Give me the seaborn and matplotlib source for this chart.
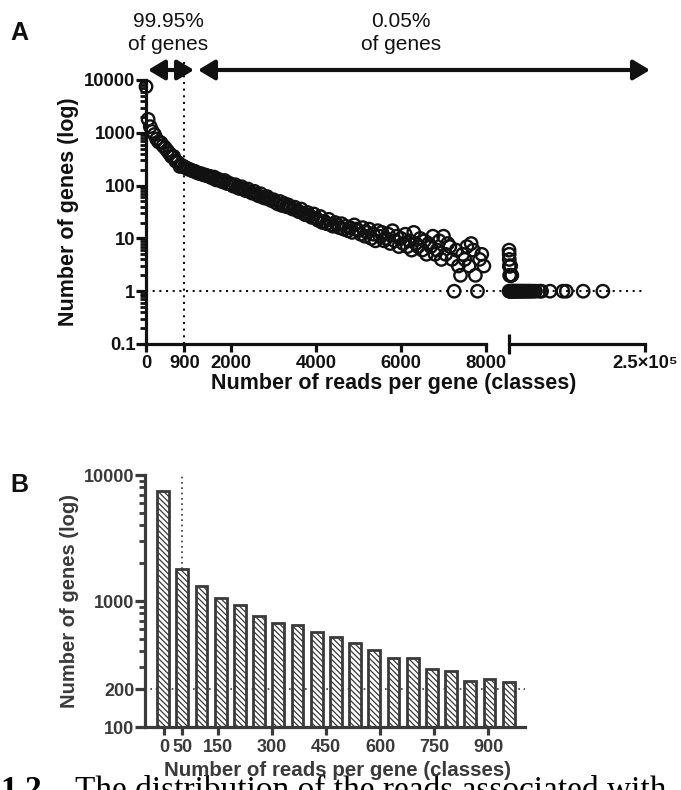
import numpy as np
import pandas as pd
import matplotlib
matplotlib.use("Agg")
import matplotlib.pyplot as plt
import seaborn as sns
from matplotlib.patches import FancyArrowPatch
from matplotlib.ticker import FixedLocator, NullFormatter

sns.set_theme(style="white")
plt.rcParams['font.family'] = ['Liberation Sans', 'DejaVu Sans']
plt.rcParams['hatch.color'] = '#3a3a3a'
plt.rcParams['hatch.linewidth'] = 0.9

# ---------------- Panel A data ----------------
a_class_start = np.arange(0, 8000, 50)
a_counts = [7500, 1800, 1310, 1060, 930, 760, 670, 650, 570, 520,
            460, 410, 356, 356, 291, 276, 230, 239, 226,
            215, 205, 198, 190, 186, 176, 170, 168, 160, 158, 152,
            150, 140, 145, 128, 132, 124, 118, 125, 110, 112,
            105, 98, 104, 92, 88, 95, 84, 80, 86, 76,
            72, 78, 68, 64, 70, 60, 58, 62, 55, 52,
            54, 48, 45, 50, 42, 46, 40, 43, 38, 36,
            39, 34, 32, 36, 30, 28, 31, 27, 25, 29,
            24, 22, 26, 20, 21, 19, 23, 18, 17, 20,
            18, 16, 19, 15, 17, 14, 16, 13, 18, 15,
            14, 12, 16, 11, 13, 15, 10, 12, 9, 14,
            11, 13, 9, 10, 12, 8, 14, 9, 11, 7,
            10, 8, 12, 7, 9, 6, 13, 8, 7, 10,
            6, 9, 5, 8, 7, 11, 5, 6, 9, 4,
            11, 5, 8, 7, 4, 1, 6, 3, 2, 5,
            4, 7, 3, 8, 6, 2, 1, 4, 5, 3]
a_tail_reads = [8100, 8300, 8500, 8700, 8900, 9200, 9600, 10000, 10500, 11000, 12000, 13000,
                8200, 9500, 11000, 12500, 14000, 15500, 17000, 19000, 21000, 23000, 25000,
                27500, 30000, 32500, 35000, 38000, 41000, 44000, 47000, 51000, 55000,
                62000, 66000, 81000, 104000, 110000, 140000, 175000]
a_tail_counts = [6, 5, 4, 3, 3, 2, 3, 2, 2, 3, 2, 2,
                 1, 1, 1, 1, 1, 1, 1, 1, 1, 1, 1,
                 1, 1, 1, 1, 1, 1, 1, 1, 1, 1,
                 1, 1, 1, 1, 1, 1, 1]
a_xticks = [0, 900, 2000, 4000, 6000, 8000]
a_yticks = [0.1, 1, 10, 100, 1000, 10000]
a_ytick_labels = ['0.1', '1', '10', '100', '1000', '10000']

# ---------------- Panel B data ----------------
b_classes = ['0', '50', '100', '150', '200', '250', '300', '350', '400', '450',
             '500', '550', '600', '650', '700', '750', '800', '850', '900']
b_counts = [7500, 1800, 1310, 1060, 930, 760, 670, 650, 570, 520,
            460, 410, 356, 356, 291, 276, 230, 239, 226]
b_xtick_values = [0, 50, 150, 300, 450, 600, 750, 900]
b_yticks = [100, 200, 1000, 10000]

W, H = 681, 790
fig = plt.figure(figsize=(W / 100, H / 100), dpi=100)

def fx(px):
    return px / W

def fy(py):
    return 1 - py / H

dark = '#111111'
spine_lw = 2.3
tick_fs = 13.3

# ---------------- Panel A ----------------
axA = fig.add_axes([fx(146), fy(344), (486 - 146) / W, (344 - 80) / H])
axA2 = fig.add_axes([fx(509), fy(344), (645 - 509) / W, (344 - 80) / H], sharey=axA)

dfA = pd.DataFrame({'reads': a_class_start, 'genes': a_counts})
dfA_tail = pd.DataFrame({'reads': a_tail_reads, 'genes': a_tail_counts})

for ax in (axA, axA2):
    ax.set_yscale('log')
    ax.set_facecolor('none')

sns.scatterplot(data=dfA, x='reads', y='genes', ax=axA, marker='o', s=80,
                facecolors='none', edgecolor=dark, linewidth=1.7, clip_on=False, zorder=3)
sns.scatterplot(data=dfA_tail, x='reads', y='genes', ax=axA2, marker='o', s=80,
                facecolors='none', edgecolor=dark, linewidth=1.7, clip_on=False, zorder=3)

axA.set_ylim(0.1, 10000)
axA.set_xlim(0, 8000)
axA2.set_xlim(8000, 250000)

for side in ('top', 'right'):
    axA.spines[side].set_visible(False)
for side in ('top', 'right', 'left'):
    axA2.spines[side].set_visible(False)
for sp in ('left', 'bottom'):
    axA.spines[sp].set_linewidth(spine_lw)
    axA.spines[sp].set_color(dark)
axA2.spines['bottom'].set_linewidth(spine_lw)
axA2.spines['bottom'].set_color(dark)

axA.set_yticks(a_yticks)
axA.set_yticklabels(a_ytick_labels)
axA.yaxis.set_minor_locator(FixedLocator(
    [m * 10.0 ** e for e in range(-1, 4) for m in range(2, 10)]))
axA.yaxis.set_minor_formatter(NullFormatter())
axA.tick_params(axis='y', which='major', direction='out', length=7, width=2.3,
                color=dark, labelsize=tick_fs, pad=0.5, left=True)
axA.tick_params(axis='y', which='minor', direction='out', length=4.5, width=2,
                color=dark, left=True)
for lab in axA.get_yticklabels():
    lab.set_fontweight('bold')
    lab.set_color(dark)

axA.set_xticks(a_xticks)
axA.set_xticklabels([str(v) for v in a_xticks])
axA.xaxis.set_minor_locator(FixedLocator([8000]))
axA.tick_params(axis='x', which='major', direction='out', length=6, width=2.3,
                color=dark, labelsize=tick_fs, pad=2, bottom=True)
axA.tick_params(axis='x', which='minor', direction='inout', length=14, width=2.3,
                color=dark, bottom=True)
for lab in axA.get_xticklabels():
    lab.set_fontweight('bold')
    lab.set_color(dark)

axA2.set_xticks([250000])
axA2.set_xticklabels(['2.5×10⁵'])
axA2.xaxis.set_minor_locator(FixedLocator([8000]))
axA2.tick_params(axis='x', which='major', direction='out', length=6, width=2.3,
                 color=dark, labelsize=tick_fs, pad=2, bottom=True)
axA2.tick_params(axis='x', which='minor', direction='inout', length=14, width=2.3,
                 color=dark, bottom=True)
axA2.tick_params(axis='y', which='both', left=False, labelleft=False)
for lab in axA2.get_xticklabels():
    lab.set_fontweight('bold')
    lab.set_color(dark)
axA2.set_xlabel('')
axA2.set_ylabel('')

# dotted reference lines
axA.axhline(1, xmin=0, xmax=(645 - 146) / (486 - 146), ls=(0, (1, 2.2)), lw=1.5,
            color=dark, clip_on=False, zorder=1)
axA.axvline(900, ymin=0, ymax=(344 - 62) / (344 - 80), ls=(0, (1, 2.2)), lw=1.5,
            color=dark, clip_on=False, zorder=1)

axA.set_xlabel('')
axA.set_ylabel('Number of genes (log)', fontsize=15.5, fontweight='bold', color=dark, labelpad=4)
fig.text(fx(394), fy(384), 'Number of reads per gene (classes)', ha='center', va='center',
         fontsize=15.5, fontweight='bold', color=dark)

# arrows and annotations
arrow_y = fy(70)
for x0, x1 in ((148, 194), (198, 650)):
    arr = FancyArrowPatch((fx(x0), arrow_y), (fx(x1), arrow_y), transform=fig.transFigure,
                          arrowstyle='<|-|>,head_length=0.5,head_width=0.3',
                          mutation_scale=20, lw=3, color=dark, shrinkA=0, shrinkB=0)
    fig.add_artist(arr)
fig.text(fx(168), fy(33), '99.95%\nof genes', ha='center', va='center', fontsize=15,
         color=dark, linespacing=1.3)
fig.text(fx(401), fy(33), '0.05%\nof genes', ha='center', va='center', fontsize=15,
         color=dark, linespacing=1.3)
fig.text(fx(10), fy(33), 'A', ha='left', va='center', fontsize=18, fontweight='bold', color=dark)

# ---------------- Panel B ----------------
gray = '#3a3a3a'
axB = fig.add_axes([fx(145), fy(727), (525 - 145) / W, (727 - 475) / H])
axB.set_yscale('log')
dfB = pd.DataFrame({'cls': b_classes, 'genes': b_counts})
sns.barplot(data=dfB, x='cls', y='genes', ax=axB, color='white', edgecolor=gray,
            linewidth=2.0, width=0.62, hatch='\\\\\\\\\\\\', saturation=1, zorder=2)
axB.set_ylim(100, 10000)
axB.set_xlim(-0.94, 18.85)
for side in ('top', 'right'):
    axB.spines[side].set_visible(False)
for sp in ('left', 'bottom'):
    axB.spines[sp].set_linewidth(spine_lw)
    axB.spines[sp].set_color(gray)

class_step = 53.3
axB.set_xticks([v / class_step + 0.05 for v in b_xtick_values])
axB.set_xticklabels([str(v) for v in b_xtick_values])
axB.tick_params(axis='x', which='major', direction='out', length=6, width=2.3,
                color=gray, labelsize=13, pad=3, bottom=True)
axB.yaxis.set_major_locator(FixedLocator(b_yticks))
axB.set_yticklabels([str(v) for v in b_yticks])
axB.yaxis.set_minor_locator(FixedLocator(
    [m * 100 for m in range(3, 10)] + [m * 1000 for m in range(2, 10)]))
axB.yaxis.set_minor_formatter(NullFormatter())
axB.tick_params(axis='y', which='major', direction='out', length=7, width=2.3,
                color=gray, labelsize=13, pad=0.5, left=True)
axB.tick_params(axis='y', which='minor', direction='out', length=4.5, width=2,
                color=gray, left=True)
for lab in axB.get_xticklabels() + axB.get_yticklabels():
    lab.set_fontweight('bold')
    lab.set_color(gray)

axB.axhline(200, ls=(0, (1, 2.2)), lw=1.2, color=gray, zorder=1)
axB.vlines(1, b_counts[1], 10000, linestyles=[(0, (1, 2.2))], lw=1.2, color=gray,
           zorder=1, clip_on=False)

axB.set_xlabel('')
axB.set_ylabel('Number of genes (log)', fontsize=14.5, fontweight='bold', color=gray, labelpad=4)
fig.text(fx(338), fy(770), 'Number of reads per gene (classes)', ha='center', va='center',
         fontsize=14.8, fontweight='bold', color=gray, zorder=5)
fig.text(fx(10), fy(485), 'B', ha='left', va='center', fontsize=18, fontweight='bold', color=dark)

# cut-off caption line at the bottom
serif = ['Liberation Serif', 'DejaVu Serif']
fig.text(fx(0), fy(799), '1.2.', ha='left', va='baseline', fontsize=24, color='black',
         fontweight='bold', family=serif, zorder=1)
fig.text(fx(75), fy(799), 'The distribution of the reads associated with',
         ha='left', va='baseline', fontsize=24, color='black', family=serif, zorder=1)

fig.savefig('out.png', dpi=100)
